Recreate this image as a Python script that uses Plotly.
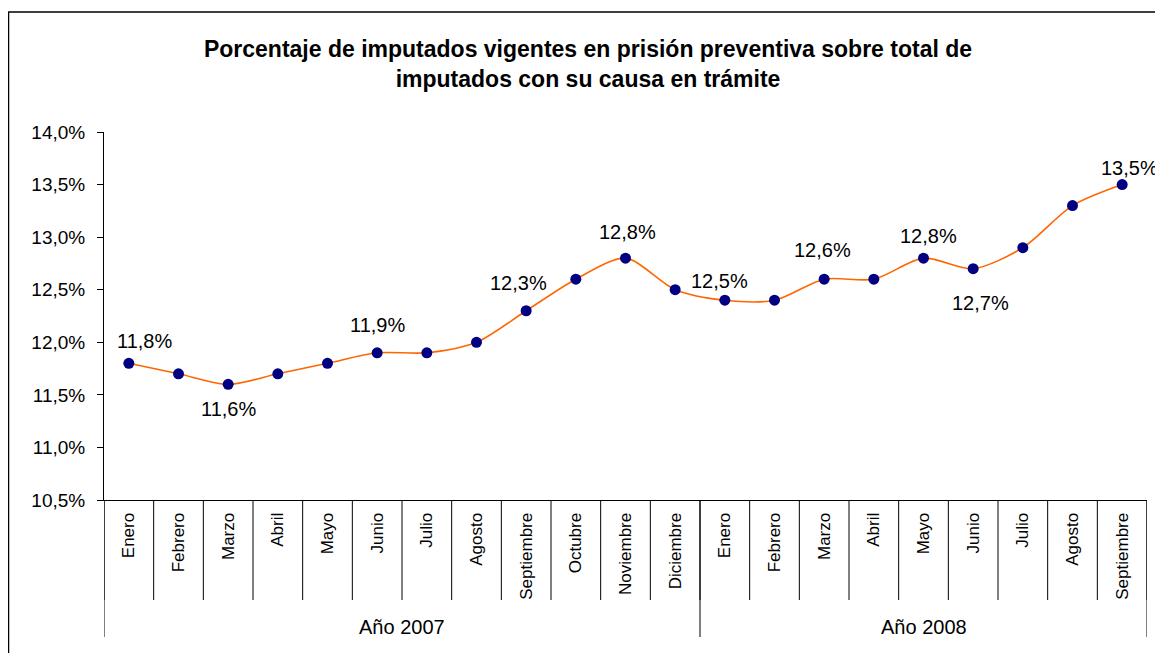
import plotly.graph_objects as go

# Datos
meses = ["Enero", "Febrero", "Marzo", "Abril", "Mayo", "Junio", "Julio", "Agosto",
         "Septiembre", "Octubre", "Noviembre", "Diciembre",
         "Enero", "Febrero", "Marzo", "Abril", "Mayo", "Junio", "Julio", "Agosto",
         "Septiembre"]
anios = ["Año 2007", "Año 2008"]
meses_por_anio = [12, 9]
porcentajes = [11.8, 11.7, 11.6, 11.7, 11.8, 11.9, 11.9, 12.0, 12.3, 12.6, 12.8, 12.5,
               12.4, 12.4, 12.6, 12.6, 12.8, 12.7, 12.9, 13.3, 13.5]

# Etiquetas de datos visibles (índice del punto, texto)
etiquetas_idx = [0, 2, 5, 8, 10, 11, 14, 16, 17, 20]
etiquetas_txt = ["11,8%", "11,6%", "11,9%", "12,3%", "12,8%", "12,5%",
                 "12,6%", "12,8%", "12,7%", "13,5%"]
# desplazamientos (px) de cada etiqueta respecto de su punto
etiquetas_dx = [16, 0, 0, -8, 2, 44, -2, 5, 7, 7]
etiquetas_dy = [22, -25, 28, 28, 26, 9, 29, 22, -34, 17]

x_idx = list(range(len(meses)))

FUENTE = "Liberation Sans, Arial"

fig = go.Figure()

fig.add_trace(go.Scatter(
    x=x_idx,
    y=porcentajes,
    mode="lines+markers",
    line=dict(color="#FF6600", width=1.6, shape="spline", smoothing=0.8),
    marker=dict(color="#000080", size=11),
    showlegend=False,
    hoverinfo="skip",
))

# Etiquetas de datos
for i, txt, dx, dy in zip(etiquetas_idx, etiquetas_txt, etiquetas_dx, etiquetas_dy):
    fig.add_annotation(
        x=i, y=porcentajes[i], text=txt, showarrow=False,
        xshift=dx, yshift=dy,
        font=dict(size=20, color="black", family=FUENTE),
    )

# Geometría (la página añade 8 px de margen al cuerpo)
ANCHO, ALTO = 1155, 645
L, R, T, B = 96, 16, 124, 153
W = ANCHO - L - R
H = ALTO - T - B

# Separadores de meses y de años bajo el eje
for k in range(len(meses) + 1):
    fig.add_shape(type="line", xref="x", yref="paper",
                  x0=k - 0.5, x1=k - 0.5, y0=0, y1=-100 / H,
                  line=dict(color="black", width=1))

limite = -0.5
fronteras = [limite]
for n in meses_por_anio:
    limite += n
    fronteras.append(limite)
for xb in fronteras:
    fig.add_shape(type="line", xref="x", yref="paper",
                  x0=xb, x1=xb, y0=0, y1=-137 / H,
                  line=dict(color="black", width=1))

for a in range(len(anios)):
    fig.add_annotation(
        x=(fronteras[a] + fronteras[a + 1]) / 2, y=-127 / H,
        xref="x", yref="paper", text=anios[a], showarrow=False,
        yanchor="middle",
        font=dict(size=20, color="black", family=FUENTE),
    )

# Marco exterior
fig.add_shape(type="rect", xref="paper", yref="paper",
              x0=(0.5 - L) / W, x1=(ANCHO + 10 - L) / W,
              y0=(T + H - ALTO - 10) / H, y1=(T + H - 4) / H,
              line=dict(color="black", width=1.5), fillcolor="rgba(0,0,0,0)")

fig.update_layout(
    width=ANCHO, height=ALTO,
    margin=dict(l=L, r=R, t=T, b=B),
    paper_bgcolor="white", plot_bgcolor="white",
    separators=",.",
    font=dict(family=FUENTE, color="black"),
    title=dict(
        text="<b>Porcentaje de imputados vigentes en prisión preventiva sobre total de<br>"
             "imputados con su causa en trámite</b>",
        x=580 / ANCHO, xref="container", xanchor="center",
        y=1 - 49 / ALTO, yref="container", yanchor="middle",
        font=dict(size=23, color="black", family=FUENTE),
    ),
    xaxis=dict(
        range=[-0.5, len(meses) - 0.5],
        tickmode="array", tickvals=x_idx, ticktext=meses,
        tickangle=-90, ticks="", ticklabelstandoff=5,
        tickfont=dict(size=17, family=FUENTE),
        showline=True, linecolor="black", linewidth=1,
        showgrid=False, zeroline=False, fixedrange=True,
    ),
    yaxis=dict(
        range=[10.5, 14.0], dtick=0.5, tick0=10.5,
        tickformat=".1f", ticksuffix="%",
        ticks="outside", ticklen=6, tickcolor="black", ticklabelstandoff=8,
        tickfont=dict(size=19, family=FUENTE),
        showline=True, linecolor="black", linewidth=1,
        showgrid=False, zeroline=False,
    ),
)

fig.write_html("out.html")
